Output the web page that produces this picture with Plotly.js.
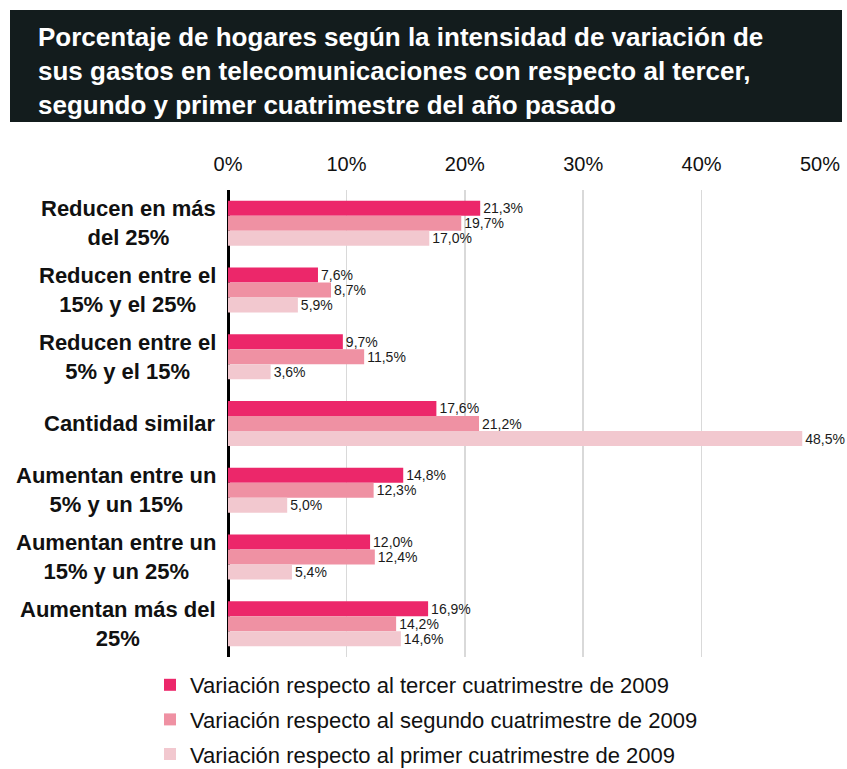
<!DOCTYPE html>
<html>
<head>
<meta charset="utf-8">
<script src="https://cdn.plot.ly/plotly-3.0.1.min.js"></script>
<style>html,body{margin:0;padding:0;background:#fff;}#chart{width:847px;height:769px;}</style>
</head>
<body>
<div id="chart"></div>
<script>
const categories = ["Reducen en más del 25%","Reducen entre el 15% y el 25%","Reducen entre el 5% y el 15%","Cantidad similar","Aumentan entre un 5% y un 15%","Aumentan entre un 15% y un 25%","Aumentan más del 25%"];
const categoryLabels = ["Reducen en más<br>del 25%","Reducen entre el<br>15% y el 25%","Reducen entre el<br>5% y el 15%","Cantidad similar","Aumentan entre un<br>5% y un 15%","Aumentan entre un<br>15% y un 25%","Aumentan más del<br>25%"];
const seriesNames = ["Variación respecto al tercer cuatrimestre de 2009","Variación respecto al segundo cuatrimestre de 2009","Variación respecto al primer cuatrimestre de 2009"];
const tercer = [21.3, 7.6, 9.7, 17.6, 14.8, 12.0, 16.9];
const segundo = [19.7, 8.7, 11.5, 21.2, 12.3, 12.4, 14.2];
const primer = [17.0, 5.9, 3.6, 48.5, 5.0, 5.4, 14.6];
const tickVals = [0, 10, 20, 30, 40, 50];
const tickText = ["0%","10%","20%","30%","40%","50%"];
const colors = ["#ec276a","#ef91a3","#f2c8cf"];
const titleText = "Porcentaje de hogares según la intensidad de variación de<br>sus gastos en telecomunicaciones con respecto al tercer,<br>segundo y primer cuatrimestre del año pasado";

const W = 847, H = 769;
const mL = 228, mR = 27, mT = 190, mB = 112;
const pw = W - mL - mR, ph = H - mT - mB;
const px = v => (v - mL) / pw;
const py = v => (H - mB - v) / ph;

const series = [tercer, segundo, primer];
const traces = series.map((vals, i) => ({
  type: "bar",
  orientation: "h",
  y: categories,
  x: vals,
  name: seriesNames[i],
  legendgroup: "g" + i,
  marker: {color: colors[i], line: {width: 0}},
  text: vals.map(v => v.toFixed(1).replace(".", ",") + "%"),
  textposition: "outside",
  textfont: {family: "Liberation Sans, Arial, sans-serif", size: 14, color: "#1a1a1a"},
  constraintext: "none",
  cliponaxis: false,
  hoverinfo: "skip"
}));

const annotations = categories.map((c, i) => ({
  xref: "paper", yref: "y",
  x: px(218), y: c,
  xanchor: "right", yanchor: "middle",
  align: "center",
  text: categoryLabels[i],
  showarrow: false,
  font: {family: "Liberation Sans, Arial, sans-serif", size: 22, color: "#111", weight: "bold"}
}));

const layout = {
  width: W, height: H,
  margin: {l: mL, r: mR, t: mT, b: mB, pad: 0, autoexpand: false},
  paper_bgcolor: "#ffffff",
  plot_bgcolor: "#ffffff",
  separators: ",.",
  barmode: "group",
  bargap: 0.325,
  bargroupgap: 0,
  title: {
    text: titleText,
    xref: "container", yref: "container",
    x: 38 / W, xanchor: "left",
    y: 1 - 46 / H, yanchor: "middle",
    font: {family: "Liberation Sans, Arial, sans-serif", size: 26, color: "#ffffff", weight: "bold"}
  },
  shapes: [{
    type: "rect", xref: "paper", yref: "paper", layer: "below",
    x0: px(10), x1: px(842), y0: py(122), y1: py(10),
    fillcolor: "#131c1d", line: {width: 0}
  }],
  xaxis: {
    side: "top",
    range: [0, 50],
    tickvals: tickVals,
    ticktext: tickText,
    showgrid: true,
    gridcolor: "#d9d9d9",
    gridwidth: 1.5,
    zeroline: true,
    zerolinecolor: "#000000",
    zerolinewidth: 3,
    showline: false,
    ticks: "",
    ticklabelstandoff: 14,
    tickfont: {family: "Liberation Sans, Arial, sans-serif", size: 20, color: "#111"},
    fixedrange: true
  },
  yaxis: {
    type: "category",
    categoryorder: "array",
    categoryarray: categories,
    autorange: "reversed",
    showticklabels: false,
    showgrid: false,
    zeroline: false,
    showline: false,
    ticks: "",
    fixedrange: true
  },
  annotations: annotations,
  showlegend: true,
  legend: {
    orientation: "v",
    x: px(150), xanchor: "left",
    y: py(664), yanchor: "top",
    traceorder: "grouped",
    tracegroupgap: 3,
    font: {family: "Liberation Sans, Arial, sans-serif", size: 22, color: "#111"},
    bgcolor: "rgba(0,0,0,0)",
    itemwidth: 30
  }
};

Plotly.newPlot("chart", traces, layout, {displayModeBar: false, staticPlot: true});
</script>
</body>
</html>
